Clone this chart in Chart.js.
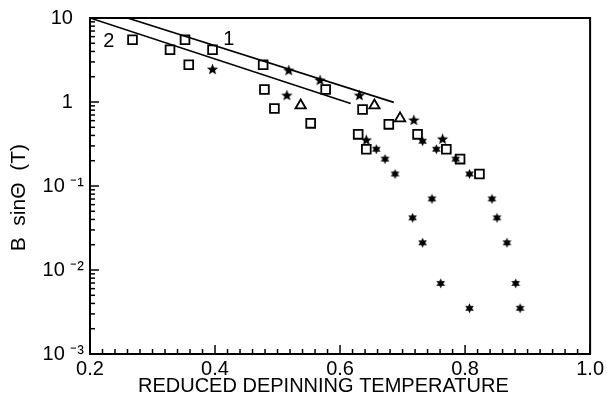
<!DOCTYPE html>
<html><head><meta charset="utf-8">
<script src="https://cdn.jsdelivr.net/npm/chart.js@4"></script>
<style>html,body{margin:0;padding:0;background:#fff}</style>
</head><body>
<canvas id="c" width="607" height="400"></canvas>
<script>
// ---- data ----
const xTicks = [0.2, 0.4, 0.6, 0.8, 1.0];
const xTickLabels = ['0.2', '0.4', '0.6', '0.8', '1.0'];
const yTicks = [1e-3, 1e-2, 1e-1, 1, 10];
const yTickLabels = ['10 ⁻³', '10 ⁻²', '10 ⁻¹', '1  ', '10  '];

const squareT = [0.268, 0.328, 0.352, 0.358, 0.396, 0.477, 0.479, 0.495, 0.553, 0.577, 0.636, 0.629, 0.642, 0.678, 0.724, 0.770, 0.792, 0.823];
const squareB = [5.5, 4.18, 5.5, 2.78, 4.18, 2.78, 1.41, 0.838, 0.557, 1.41, 0.815, 0.412, 0.274, 0.542, 0.412, 0.274, 0.209, 0.139];

const triangleT = [0.537, 0.655, 0.696];
const triangleB = [0.91, 0.91, 0.638];

const starT = [0.396, 0.518, 0.515, 0.568, 0.631, 0.642, 0.718, 0.764];
const starB = [2.43, 2.36, 1.19, 1.80, 1.19, 0.35, 0.604, 0.36];

const asteriskT = [0.658, 0.672, 0.688, 0.732, 0.754, 0.785, 0.807, 0.747, 0.716, 0.732, 0.761, 0.807, 0.843, 0.851, 0.867, 0.881, 0.888];
const asteriskB = [0.274, 0.209, 0.139, 0.341, 0.274, 0.209, 0.139, 0.0702, 0.0418, 0.0211, 0.00692, 0.0035, 0.0702, 0.0418, 0.0211, 0.00692, 0.0035];

const line1T = [0.26, 0.686];
const line1B = [10, 0.99];
const line2T = [0.2, 0.617];
const line2B = [10, 0.96];

const lineLabels = ['1', '2'];
const lineLabelT = [0.422, 0.230];
const lineLabelB = [5.5, 5.3];

const xTitle = 'REDUCED DEPINNING TEMPERATURE      ';
const yTitle = 'B  sinΘ  (T)    ';

// ---- helpers ----
const pts = (xs, ys) => xs.map((v, i) => ({x: v, y: ys[i]}));
const FONT = '"Liberation Sans", Arial, sans-serif';

function starCanvas(n, rOut, rIn) {
  const s = Math.ceil(rOut * 2 + 3);
  const c = document.createElement('canvas');
  c.width = s; c.height = s;
  const g = c.getContext('2d');
  g.translate(s / 2, s / 2);
  g.beginPath();
  for (let i = 0; i < 2 * n; i++) {
    const r = i % 2 ? rIn : rOut;
    const a = -Math.PI / 2 + i * Math.PI / n;
    g.lineTo(r * Math.cos(a), r * Math.sin(a));
  }
  g.closePath();
  g.fillStyle = '#000';
  g.fill();
  return c;
}
const star5 = starCanvas(5, 6, 2.6);
const star6 = starCanvas(6, 5, 2.6);

const framePlugin = {
  id: 'frame',
  beforeDraw(chart) {
    const ctx = chart.ctx;
    ctx.save(); ctx.fillStyle = '#fff'; ctx.fillRect(0, 0, chart.width, chart.height); ctx.restore();
  },
  afterDatasetsDraw(chart) {
    const {ctx, chartArea: a, scales: {x, y}} = chart;
    ctx.save();
    ctx.strokeStyle = '#000';
    ctx.lineWidth = 2;
    ctx.strokeRect(a.left, a.top, a.right - a.left, a.bottom - a.top);
    ctx.lineWidth = 1.5;
    // x ticks (inward)
    for (let i = 0; i <= 40; i++) {
      const px = x.getPixelForValue(0.2 + i * 0.02);
      const len = i % 10 === 0 ? 9 : 5;
      ctx.beginPath(); ctx.moveTo(px, a.bottom); ctx.lineTo(px, a.bottom - len); ctx.stroke();
    }
    // y ticks (inward, log minor)
    for (let e = -3; e <= 0; e++) {
      for (let m = 1; m <= 9; m++) {
        const py = y.getPixelForValue(m * Math.pow(10, e));
        const len = m === 1 ? 9 : 5;
        ctx.beginPath(); ctx.moveTo(a.left, py); ctx.lineTo(a.left + len, py); ctx.stroke();
      }
    }
    // line labels
    ctx.fillStyle = '#000';
    ctx.font = '20px ' + FONT;
    ctx.textAlign = 'center';
    ctx.textBaseline = 'middle';
    lineLabels.forEach((t, i) => {
      ctx.fillText(t, x.getPixelForValue(lineLabelT[i]), y.getPixelForValue(lineLabelB[i]));
    });
    ctx.restore();
  }
};

Chart.defaults.color = '#000';
Chart.defaults.font.family = FONT;

new Chart(document.getElementById('c'), {
  type: 'scatter',
  data: {
    datasets: [
      {type: 'line', data: pts(line1T, line1B), borderColor: '#000', borderWidth: 1.6, pointRadius: 0, fill: false},
      {type: 'line', data: pts(line2T, line2B), borderColor: '#000', borderWidth: 1.6, pointRadius: 0, fill: false},
      {data: pts(squareT, squareB), pointStyle: 'rect', pointRadius: 6.2, borderColor: '#000', borderWidth: 1.8, backgroundColor: 'rgba(0,0,0,0)'},
      {data: pts(triangleT, triangleB), pointStyle: 'triangle', pointRadius: 6, borderColor: '#000', borderWidth: 1.8, backgroundColor: 'rgba(0,0,0,0)'},
      {data: pts(starT, starB), pointStyle: star5, pointRadius: 6},
      {data: pts(asteriskT, asteriskB), pointStyle: star6, pointRadius: 5}
    ]
  },
  options: {
    responsive: false,
    animation: false,
    devicePixelRatio: 1,
    layout: {padding: {top: 16, right: 12, left: 0, bottom: 0}},
    plugins: {legend: {display: false}, tooltip: {enabled: false}},
    scales: {
      x: {
        type: 'linear', min: 0.2, max: 1.0,
        afterBuildTicks: s => { s.ticks = xTicks.map(v => ({value: v})); },
        afterFit: s => { s.height = 46; },
        grid: {display: false, drawTicks: false},
        border: {display: false},
        ticks: {font: {size: 20}, padding: 3, maxRotation: 0, autoSkip: false,
                callback: (v, i) => xTickLabels[i]},
        title: {display: true, text: xTitle, font: {size: 20}, padding: {top: 0, bottom: 2}}
      },
      y: {
        type: 'logarithmic', min: 1e-3, max: 10,
        afterBuildTicks: s => { s.ticks = yTicks.map(v => ({value: v})); },
        afterFit: s => { s.width = 90; },
        grid: {display: false, drawTicks: false},
        border: {display: false},
        ticks: {font: {size: 20}, padding: 6, autoSkip: false,
                callback: (v, i) => yTickLabels[i]},
        title: {display: true, text: yTitle, font: {size: 21}, padding: {top: 7, bottom: 0}}
      }
    }
  },
  plugins: [framePlugin]
});
</script>
</body></html>
